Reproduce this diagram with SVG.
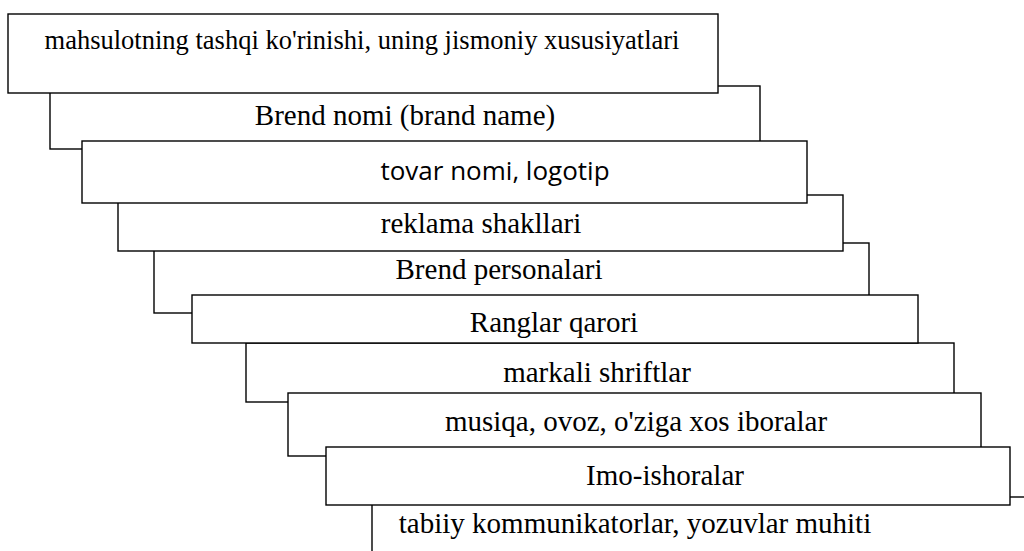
<svg xmlns="http://www.w3.org/2000/svg" width="1024" height="551" viewBox="0 0 1024 551">
  <style>
    .box { fill: #fff; stroke: #000; stroke-width: 1.4; }
    .lbl { font-family: 'Liberation Serif', serif; font-size: 29px; fill: #000; text-anchor: middle; }
    .lbl-sm { font-size: 26.5px; }
    .sans { font-family: 'Open Sans', sans-serif; font-size: 26px; fill: #000; text-anchor: middle; }
  </style>
  <rect width="1024" height="551" fill="#fff"/>

  <!-- stacked cards, drawn back to front -->
  <g id="node-brend-nomi">
    <rect class="box" x="50" y="86" width="710" height="63"/>
    <text class="lbl" x="405" y="125">Brend nomi (brand name)</text>
  </g>
  <g id="node-brend-personalari">
    <rect class="box" x="154" y="243" width="715" height="70"/>
    <text class="lbl" x="499" y="279">Brend personalari</text>
  </g>
  <g id="node-markali-shriftlar">
    <rect class="box" x="246" y="343" width="708" height="59"/>
    <text class="lbl" x="597" y="382">markali shriftlar</text>
  </g>
  <g id="node-tabiiy">
    <rect class="box" x="372" y="497" width="670" height="70"/>
    <text class="lbl" x="635" y="533">tabiiy kommunikatorlar, yozuvlar muhiti</text>
  </g>
  <g id="node-reklama">
    <rect class="box" x="118" y="195" width="725" height="56"/>
    <text class="lbl" x="481" y="233">reklama shakllari</text>
  </g>
  <g id="node-musiqa">
    <rect class="box" x="288" y="393" width="693" height="63"/>
    <text class="lbl" x="636" y="431">musiqa, ovoz, o'ziga xos iboralar</text>
  </g>
  <g id="node-mahsulot">
    <rect class="box" x="8" y="14" width="710" height="79"/>
    <text class="lbl lbl-sm" x="362" y="49">mahsulotning tashqi ko'rinishi, uning jismoniy xususiyatlari</text>
  </g>
  <g id="node-tovar-nomi">
    <rect class="box" x="82" y="141" width="725" height="62"/>
    <text class="sans" x="495" y="180">tovar nomi, logotip</text>
  </g>
  <g id="node-ranglar">
    <rect class="box" x="192" y="295" width="726" height="48"/>
    <text class="lbl" x="554" y="332">Ranglar qarori</text>
  </g>
  <g id="node-imo-ishoralar">
    <rect class="box" x="326" y="447" width="684" height="58"/>
    <text class="lbl" x="665" y="485">Imo-ishoralar</text>
  </g>
</svg>
